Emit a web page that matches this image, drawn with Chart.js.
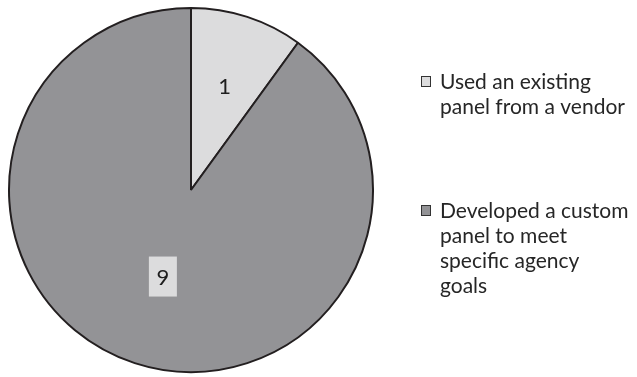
<!DOCTYPE html>
<html>
<head>
<meta charset="utf-8">
<script src="https://cdn.jsdelivr.net/npm/chart.js@4"></script>
<style>
html,body{margin:0;padding:0;background:#fff;}
#wrap{width:637px;height:377px;position:relative;}
</style>
</head>
<body>
<div id="wrap"><canvas id="c" width="637" height="377"></canvas></div>
<script>
const categories = ["Used an existing panel from a vendor", "Developed a custom panel to meet specific agency goals"];
const legendLines = [["Used an existing", "panel from a vendor"], ["Developed a custom", "panel to meet", "specific agency", "goals"]];
const values = [1, 9];
const colors = ["#dcdcdd", "#939396"];

const labelPlugin = {
  id: 'labelPlugin',
  afterDatasetsDraw(chart) {
    const ctx = chart.ctx;
    const meta = chart.getDatasetMeta(0);
    ctx.save();
    ctx.font = '22px Lato';
    ctx.textAlign = 'center';
    ctx.textBaseline = 'middle';
    meta.data.forEach((arc, i) => {
      const frac = i === 0 ? 0.6 : 0.5;
      const mid = (arc.startAngle + arc.endAngle) / 2;
      const r = arc.outerRadius * frac;
      const px = arc.x + Math.cos(mid) * r;
      const py = arc.y + Math.sin(mid) * r;
      const txt = String(values[i]);
      if (i === 1) {
        ctx.fillStyle = colors[0];
        ctx.fillRect(px - 14, py - 20, 28, 40);
      }
      ctx.fillStyle = '#1e1e1e';
      ctx.fillText(txt, px, py + 1);
    });
    ctx.restore();
  }
};

const legendPlugin = {
  id: 'sideLegend',
  afterDraw(chart) {
    const ctx = chart.ctx;
    ctx.save();
    ctx.font = '21px Lato';
    ctx.textBaseline = 'alphabetic';
    ctx.textAlign = 'left';
    const tops = [76, 205];
    legendLines.forEach((lines, i) => {
      const y0 = tops[i];
      ctx.fillStyle = colors[i];
      ctx.fillRect(421, y0, 10, 11);
      ctx.strokeStyle = '#333';
      ctx.lineWidth = 1;
      ctx.strokeRect(421.5, y0 + 0.5, 9, 10);
      ctx.fillStyle = '#262626';
      lines.forEach((ln, j) => {
        ctx.fillText(ln, 440, y0 + 13 + j * 25);
      });
    });
    ctx.restore();
  }
};

new Chart(document.getElementById('c'), {
  type: 'pie',
  data: {
    labels: categories,
    datasets: [{
      data: values,
      backgroundColor: colors,
      borderColor: '#231f20',
      borderWidth: 2
    }]
  },
  options: {
    responsive: false,
    animation: false,
    layout: { padding: { left: 8, top: 7, bottom: 4, right: 263 } },
    plugins: {
      legend: { display: false },
      tooltip: { enabled: false }
    }
  },
  plugins: [labelPlugin, legendPlugin]
});
</script>
</body>
</html>
